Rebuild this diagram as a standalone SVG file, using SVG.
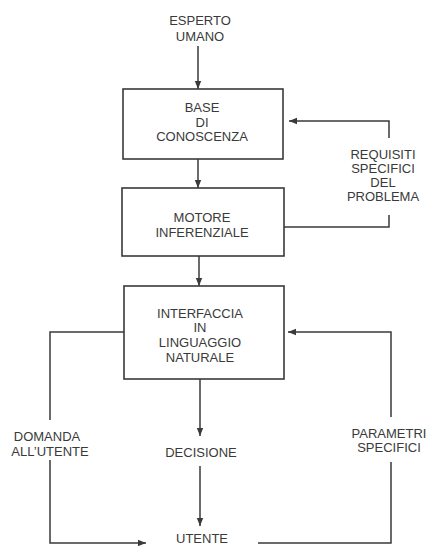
<svg xmlns="http://www.w3.org/2000/svg" width="427" height="546" viewBox="0 0 427 546">
<defs>
<marker id="ah" viewBox="0 0 10 10" refX="10" refY="5" markerWidth="8" markerHeight="8" markerUnits="userSpaceOnUse" orient="auto">
<path d="M0,1 L10,5 L0,9 Z" fill="#3a3a3a"/>
</marker>
<style>
text{font-family:"Liberation Sans",Arial,sans-serif;font-size:13px;fill:#3a3a3a;text-anchor:middle}
.box{fill:none;stroke:#3a3a3a;stroke-width:1.6}
.ln{fill:none;stroke:#3a3a3a;stroke-width:1.5}
</style>
</defs>
<rect width="427" height="546" fill="#fff"/>
<g id="esperto">
<text x="200" y="25">ESPERTO</text>
<text x="200" y="41">UMANO</text>
</g>
<g id="base">
<rect class="box" x="123" y="89" width="160" height="70"/>
<text x="202" y="112">BASE</text>
<text x="202" y="127">DI</text>
<text x="202" y="141">CONOSCENZA</text>
</g>
<g id="motore">
<rect class="box" x="122" y="188" width="162" height="68"/>
<text x="202" y="222">MOTORE</text>
<text x="202" y="237">INFERENZIALE</text>
</g>
<g id="requisiti">
<text x="383" y="159">REQUISITI</text>
<text x="383" y="173">SPECIFICI</text>
<text x="383" y="187">DEL</text>
<text x="383" y="201">PROBLEMA</text>
</g>
<g id="interfaccia">
<rect class="box" x="124" y="286" width="160" height="93"/>
<text x="200" y="318">INTERFACCIA</text>
<text x="200" y="332">IN</text>
<text x="200" y="347">LINGUAGGIO</text>
<text x="200" y="362">NATURALE</text>
</g>
<g id="domanda">
<text x="47" y="441">DOMANDA</text>
<text x="50" y="456">ALL’UTENTE</text>
</g>
<g id="decisione">
<text x="201" y="457">DECISIONE</text>
</g>
<g id="parametri">
<text x="389" y="438">PARAMETRI</text>
<text x="389" y="452">SPECIFICI</text>
</g>
<g id="utente">
<text x="202" y="543">UTENTE</text>
</g>
<g id="connectors">
<path class="ln" d="M198,46 V89" marker-end="url(#ah)"/>
<path class="ln" d="M198,159 V188" marker-end="url(#ah)"/>
<path class="ln" d="M199,256 V286" marker-end="url(#ah)"/>
<path class="ln" d="M284,227 H389 V215"/>
<path class="ln" d="M389,138 V121 H289" marker-end="url(#ah)"/>
<path class="ln" d="M124,332 H50 V420"/>
<path class="ln" d="M50,460 V543 H146" marker-end="url(#ah)"/>
<path class="ln" d="M200,379 V436" marker-end="url(#ah)"/>
<path class="ln" d="M200,466 V526" marker-end="url(#ah)"/>
<path class="ln" d="M391,417 V332 H288" marker-end="url(#ah)"/>
<path class="ln" d="M391,462 V543 H258"/>
</g>
</svg>
